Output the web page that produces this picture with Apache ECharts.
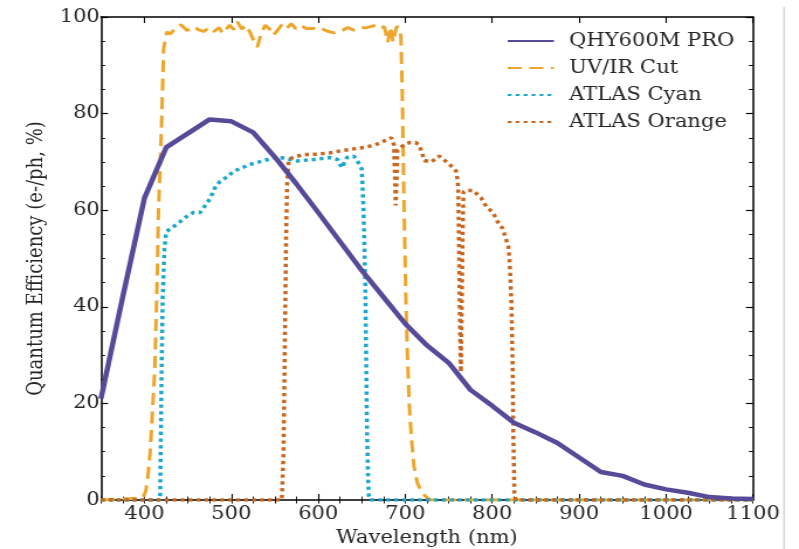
<!DOCTYPE html>
<html>
<head>
<meta charset="utf-8">
<script src="https://cdn.jsdelivr.net/npm/echarts@6/dist/echarts.min.js"></script>
<style>
html,body{margin:0;padding:0;background:#fff;overflow:hidden;width:799px;height:549px;}
#c{width:683px;height:549px;transform:scaleX(1.1698);transform-origin:0 0;}
</style>
</head>
<body>
<div id="c"></div>
<script>
// ---- data ----
const seriesNames = ['QHY600M PRO', 'UV/IR Cut', 'ATLAS Cyan', 'ATLAS Orange'];
const xMajorTicks = [400, 500, 600, 700, 800, 900, 1000, 1100];
const xMinorTicks = [350,375,400,425,450,475,500,525,550,575,600,625,650,675,700,725,750,775,800,825,850,875,900,925,950,975,1000,1025,1050,1075,1100];

const qhyWl = [350,375,400,425,450,475,500,525,550,575,600,625,650,675,700,725,750,775,800,825,850,875,900,925,950,975,1000,1025,1050,1075,1100];
const qhyQe = [21,42,62.5,73,75.9,78.8,78.4,76.1,71,65.4,59.5,53.5,47.5,42,36.5,32,28.4,22.8,19.5,16,14,11.8,8.8,5.8,5,3.2,2.2,1.5,0.6,0.3,0.2];

const uvWl = [350,398,401.5,404,406.5,410,412,413.5,415,416,418,420,422,425.7,430,436,442,449,456,462,468,475,480,486,490,494,498,503,507,512,517,521,526,530,534,539,544,548,553,558,563,569,574,580,586,593,600,610,618,626,634,641,648,656,664,670,676,680,683,686,690,693,695,696.5,698.5,700.5,702.5,704.5,707,710,714,718,722,726,730,1100];
const uvT  = [0,0.4,1.8,5,9.7,20.7,27.7,38,48.4,58.8,69,79.5,93.4,96.9,96.5,97.8,98.4,97.2,98,97.4,97,97.8,97,97.8,96.6,97.5,98.3,97.4,99,97.5,98.3,97,95,93.8,96.5,98.3,97.5,96.2,97.2,98.4,97.6,98.6,97.6,98.3,97.6,97.6,97.9,97.1,96.7,97.1,97.8,97.3,97.8,97.8,98.2,97.5,98,94.8,98,94.8,98,97.8,96,85,62,43,30,20,13,7,3.5,2,1,0.3,0,0];

const cyanWl = [350,418,419,420,421,423,425,430,437,447,456,464,470,476,480,487,497,502,510,520,530,540,550,560,576,595,614,622,627,633,641,645,650,652,654,655,656,657,658,660,1100];
const cyanT  = [0,0,15,30,42,52,55.5,56.2,57,58.5,59.5,59.5,61,62.5,64.3,66,67.1,68,68.6,69.4,69.9,70.4,70.9,70.8,70.2,70.5,70.9,70.5,68.8,70.9,71.2,70.2,68.5,60,45,30,15,6,1,0,0];

const orangeWl = [350,558,560,561,562,563,564,566,572,583,599,614,626,637,653,665,672,680,684,687,688,689,690,691,699,705,712,716,719,722,730,739,749,755,758.5,760.4,761,762,763,764,765,766,767,770,778,787,793,801,806,812,816,818.5,820,822,823.5,824.3,825.5,827,1100];
const orangeT  = [0,0,10,25,40,55,65,70.5,71,71.5,71.6,71.9,72.3,72.6,73,73.5,74,74.7,75,73.5,68,61,66,72.5,73.6,74,74,73.5,72,70.3,70,71.2,69.8,68.8,68.1,66,64,50,35,26.5,40,55,63.8,64.1,64.1,62.6,60.8,59.5,57.7,56.2,54,52.5,49.8,41.5,28,14,1.5,0,0];

const colors = ['#574b99', '#eea62a', '#1aa8cb', '#c9671f'];

function zip(a, b) { return a.map((v, i) => [v, b[i]]); }

const FONT = 'DejaVu Serif';
const TXT = '#262626';

const chart = echarts.init(document.getElementById('c'), null, {renderer: 'canvas', width: 683, height: 549});

const baseX = {type: 'value', min: 350, max: 1100, splitLine: {show: false}, gridIndex: 0};
const lineCol = '#000';

const option = {
  backgroundColor: '#fff',
  animation: false,
  grid: {left: 86.3, right: 39.3, top: 17, bottom: 49, containLabel: false, outerBoundsMode: 'none'},
  legend: {
    data: seriesNames,
    orient: 'vertical',
    left: 433,
    top: 31,
    padding: 0,
    itemWidth: 39.5,
    itemHeight: 14,
    itemGap: 7,
    itemStyle: {opacity: 0, color: 'rgba(0,0,0,0)', borderWidth: 0},
    textStyle: {fontFamily: FONT, fontSize: 18, color: TXT, lineHeight: 20, padding: [0, 0, 0, 8]}
  },
  xAxis: [
    Object.assign({}, baseX, {
      position: 'bottom',
      name: 'Wavelength (nm)', nameLocation: 'middle', nameGap: 29.5,
      nameTextStyle: {fontFamily: FONT, fontSize: 18, color: TXT},
      axisLine: {show: true, onZero: false, lineStyle: {color: lineCol, width: 1.5}},
      axisTick: {show: true, inside: true, length: 6, customValues: xMajorTicks, lineStyle: {color: lineCol, width: 1.1}},
      axisLabel: {show: true, customValues: xMajorTicks, margin: 5, fontFamily: FONT, fontSize: 18, color: TXT,
                  formatter: function (v) { return String(v); }}
    }),
    Object.assign({}, baseX, {
      position: 'bottom',
      axisLine: {show: false},
      axisTick: {show: true, inside: true, length: 3.5, customValues: xMinorTicks, lineStyle: {color: lineCol, width: 0.9}},
      axisLabel: {show: false}
    }),
    Object.assign({}, baseX, {
      position: 'top',
      axisLine: {show: true, onZero: false, lineStyle: {color: lineCol, width: 1.5}},
      axisTick: {show: true, inside: true, length: 6, customValues: xMajorTicks, lineStyle: {color: lineCol, width: 1.1}},
      axisLabel: {show: false}
    }),
    Object.assign({}, baseX, {
      position: 'top',
      axisLine: {show: false},
      axisTick: {show: true, inside: true, length: 3.5, customValues: xMinorTicks, lineStyle: {color: lineCol, width: 0.9}},
      axisLabel: {show: false}
    })
  ],
  yAxis: [
    {
      type: 'value', min: 0, max: 100, interval: 20, position: 'left',
      name: 'Quantum Efficiency (e-/ph, %)', nameLocation: 'middle', nameGap: 33, nameRotate: 90,
      nameTextStyle: {fontFamily: FONT, fontSize: 18, color: TXT},
      axisLine: {show: true, onZero: false, lineStyle: {color: lineCol, width: 1.5}},
      axisTick: {show: true, inside: true, length: 6, lineStyle: {color: lineCol, width: 1.2}},
      minorTick: {show: true, splitNumber: 4, length: 3.5, lineStyle: {color: lineCol, width: 1}},
      axisLabel: {margin: 1, fontFamily: FONT, fontSize: 18, color: TXT},
      splitLine: {show: false}
    },
    {
      type: 'value', min: 0, max: 100, interval: 20, position: 'right',
      axisLine: {show: true, onZero: false, lineStyle: {color: lineCol, width: 1.5}},
      axisTick: {show: true, inside: true, length: 6, lineStyle: {color: lineCol, width: 1.2}},
      minorTick: {show: true, splitNumber: 4, length: 3.5, lineStyle: {color: lineCol, width: 1}},
      axisLabel: {show: false},
      splitLine: {show: false}
    }
  ],
  series: [
    {name: seriesNames[0], type: 'line', symbol: 'none', data: zip(qhyWl, qhyQe), z: 5,
     lineStyle: {color: colors[0], width: 4.5, join: 'round'}, itemStyle: {color: colors[0]}},
    {name: seriesNames[1], type: 'line', symbol: 'none', data: zip(uvWl, uvT), z: 3,
     lineStyle: {color: colors[1], width: 3, type: [12, 6.5]}, itemStyle: {color: colors[1]}},
    {name: seriesNames[2], type: 'line', symbol: 'none', data: zip(cyanWl, cyanT), z: 4,
     lineStyle: {color: colors[2], width: 3.5, type: [3.3, 3.5]}, itemStyle: {color: colors[2]}},
    {name: seriesNames[3], type: 'line', symbol: 'none', data: zip(orangeWl, orangeT), z: 4,
     lineStyle: {color: colors[3], width: 3.5, type: [3.3, 3.5]}, itemStyle: {color: colors[3]}}
  ],
  graphic: [
    {type: 'line', shape: {x1: 670.2, y1: 7, x2: 670.2, y2: 549}, style: {stroke: '#d0d0d0', lineWidth: 1.3}, silent: true}
  ]
};
chart.setOption(option);
</script>
</body>
</html>
